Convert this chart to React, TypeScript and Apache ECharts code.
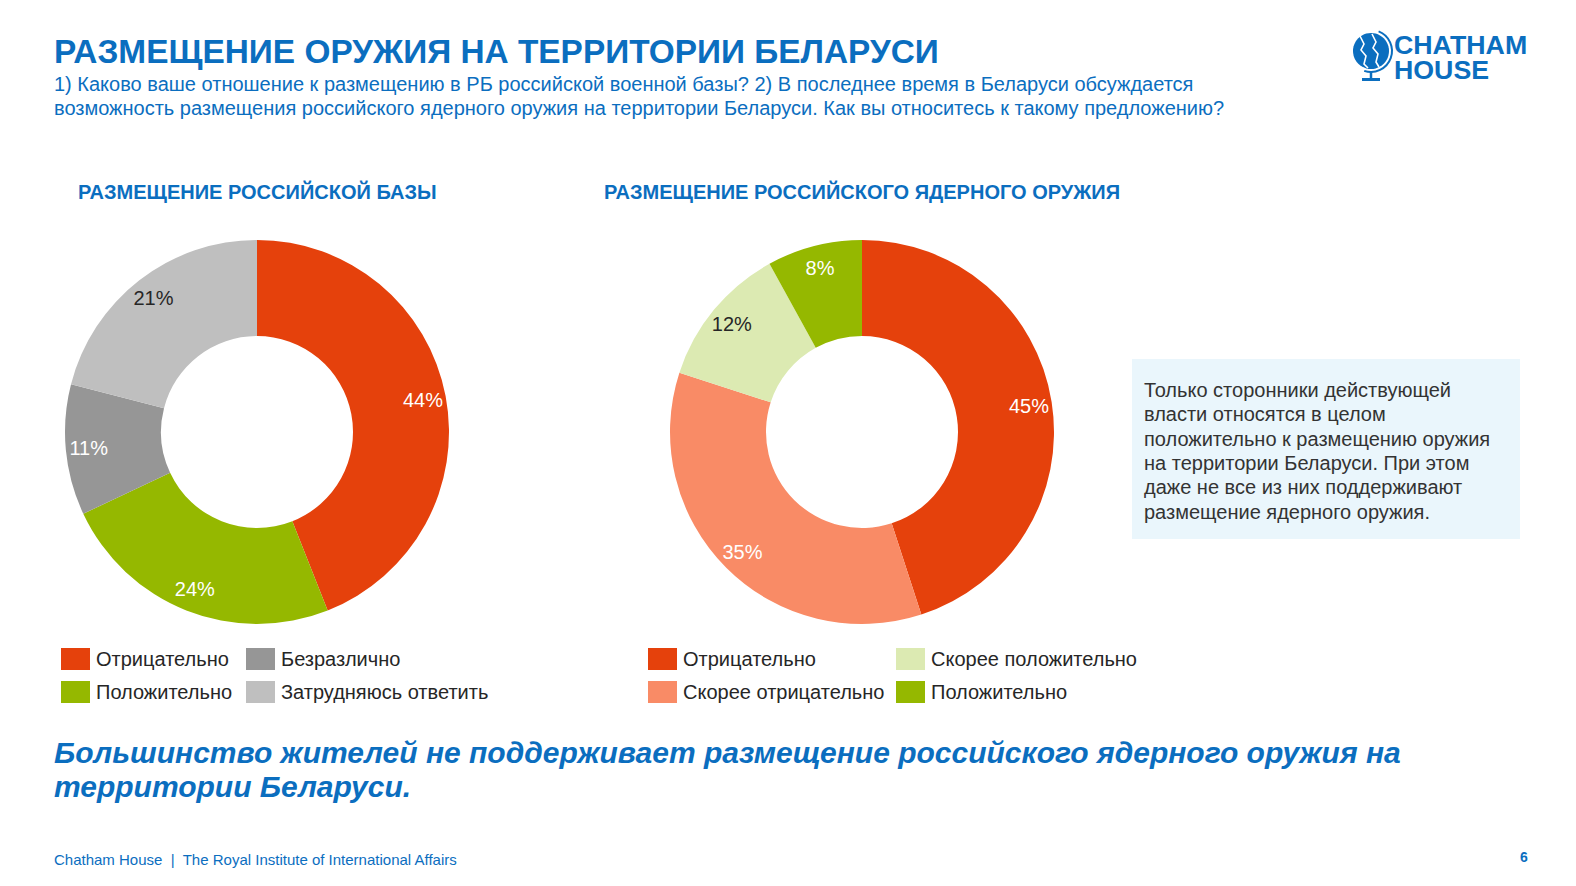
import React, { useEffect, useRef } from "react";
import * as echarts from "echarts";

const baseCategories = ["Отрицательно", "Положительно", "Безразлично", "Затрудняюсь ответить"];
const baseValues = [44, 24, 11, 21];
const baseColors = ["#E5410C", "#95B800", "#969696", "#BFBFBF"];
const baseLabelColors = ["#FFFFFF", "#FFFFFF", "#FFFFFF", "#262626"];

const nukeCategories = ["Отрицательно", "Скорее отрицательно", "Скорее положительно", "Положительно"];
const nukeValues = [45, 35, 12, 8];
const nukeColors = ["#E5410C", "#F98B66", "#DCEAB2", "#95B800"];
const nukeLabelColors = ["#FFFFFF", "#FFFFFF", "#262626", "#FFFFFF"];

const FONT = '"Liberation Sans", Arial, sans-serif';
const BLUE = "#0B6EBF";

function buildSeries(
  cats: string[],
  vals: number[],
  colors: string[],
  labelColors: string[],
  center: [number, number]
) {
  const main = {
    type: "pie",
    center,
    radius: [96, 192],
    startAngle: 90,
    clockwise: true,
    silent: true,
    label: { show: false },
    labelLine: { show: false },
    emphasis: { disabled: true },
    itemStyle: { borderWidth: 0 },
    data: cats.map((c, i) => ({ name: c, value: vals[i], itemStyle: { color: colors[i] } })),
  };
  const labels = {
    type: "pie",
    center,
    radius: [140, 192],
    startAngle: 90,
    clockwise: true,
    silent: true,
    legendHoverLink: false,
    emphasis: { disabled: true },
    itemStyle: { color: "rgba(0,0,0,0)", borderWidth: 0 },
    labelLine: { show: false },
    label: {
      show: true,
      position: "inside",
      formatter: "{c}%",
      fontSize: 20,
      fontFamily: FONT,
    },
    data: cats.map((c, i) => ({
      name: c + " ",
      value: vals[i],
      label: { color: labelColors[i] },
    })),
  };
  return [main, labels];
}

const legendCommon = {
  orient: "vertical",
  itemWidth: 29,
  itemHeight: 22,
  itemGap: 11,
  padding: 0,
  icon: "rect",
  selectedMode: false,
  textStyle: { fontSize: 20, fontFamily: FONT, color: "#262626", padding: [0, 0, 0, 1] },
};

export default function App() {
  const ref = useRef<HTMLDivElement>(null);
  useEffect(() => {
    if (!ref.current) return;
    const chart = echarts.init(ref.current, undefined, { renderer: "svg" });
    const s1 = buildSeries(baseCategories, baseValues, baseColors, baseLabelColors, [257, 432]);
    const s2 = buildSeries(nukeCategories, nukeValues, nukeColors, nukeLabelColors, [862, 432]);
    const textLines = [
      "Только сторонники действующей",
      "власти относятся в целом",
      "положительно к размещению оружия",
      "на территории Беларуси. При этом",
      "даже не все из них поддерживают",
      "размещение ядерного оружия.",
    ];
    chart.setOption({
      animation: false,
      backgroundColor: "#FFFFFF",
      series: [s1[0], s2[0], s1[1], s2[1]],
      legend: [
        { ...legendCommon, left: 61, top: 648, data: [baseCategories[0], baseCategories[1]] },
        { ...legendCommon, left: 246, top: 648, data: [baseCategories[2], baseCategories[3]] },
        { ...legendCommon, left: 648, top: 648, data: [nukeCategories[0], nukeCategories[1]] },
        { ...legendCommon, left: 896, top: 648, data: [nukeCategories[2], nukeCategories[3]] },
      ],
      graphic: [
        {
          type: "text",
          x: 54,
          y: 51,
          style: {
            text: "РАЗМЕЩЕНИЕ ОРУЖИЯ НА ТЕРРИТОРИИ БЕЛАРУСИ",
            fontSize: 33.4,
            fontWeight: "bold",
            fontFamily: FONT,
            fill: BLUE,
            verticalAlign: "middle",
          },
        },
        {
          type: "text",
          x: 54,
          y: 72,
          style: {
            text:
              "1) Каково ваше отношение к размещению в РБ российской военной базы? 2) В последнее время в Беларуси обсуждается\nвозможность размещения российского ядерного оружия на территории Беларуси. Как вы относитесь к такому предложению?",
            fontSize: 20,
            lineHeight: 24,
            fontFamily: FONT,
            fill: BLUE,
            verticalAlign: "top",
          },
        },
        {
          type: "text",
          x: 78,
          y: 192,
          style: {
            text: "РАЗМЕЩЕНИЕ РОССИЙСКОЙ БАЗЫ",
            fontSize: 20,
            fontWeight: "bold",
            fontFamily: FONT,
            fill: BLUE,
            verticalAlign: "middle",
          },
        },
        {
          type: "text",
          x: 604,
          y: 192,
          style: {
            text: "РАЗМЕЩЕНИЕ РОССИЙСКОГО ЯДЕРНОГО ОРУЖИЯ",
            fontSize: 20,
            fontWeight: "bold",
            fontFamily: FONT,
            fill: BLUE,
            verticalAlign: "middle",
          },
        },
        {
          type: "rect",
          shape: { x: 1132, y: 359, width: 388, height: 180 },
          style: { fill: "#EAF6FC" },
        },
        {
          type: "text",
          x: 1144,
          y: 378,
          style: {
            text: textLines.join("\n"),
            fontSize: 20,
            lineHeight: 24.3,
            fontFamily: FONT,
            fill: "#333333",
            verticalAlign: "top",
          },
        },
        {
          type: "text",
          x: 54,
          y: 735,
          style: {
            text:
              "Большинство жителей не поддерживает размещение российского ядерного оружия на\nтерритории Беларуси.",
            fontSize: 30,
            lineHeight: 34,
            fontWeight: "bold",
            fontStyle: "italic",
            fontFamily: FONT,
            fill: BLUE,
            verticalAlign: "top",
          },
        },
        {
          type: "text",
          x: 54,
          y: 859,
          style: {
            text: "Chatham House  |  The Royal Institute of International Affairs",
            fontSize: 15,
            fontFamily: FONT,
            fill: BLUE,
            verticalAlign: "middle",
          },
        },
        {
          type: "text",
          x: 1524,
          y: 857,
          style: {
            text: "6",
            fontSize: 14,
            fontWeight: "bold",
            fontFamily: FONT,
            fill: BLUE,
            align: "center",
            verticalAlign: "middle",
          },
        },
        // logo
        {
          type: "group",
          children: [
            { type: "circle", shape: { cx: 1371, cy: 51, r: 18 }, style: { fill: BLUE } },
            {
              type: "arc",
              shape: { cx: 1371, cy: 51, r: 21, startAngle: -1.2, endAngle: 1.9 },
              style: { stroke: BLUE, lineWidth: 2, fill: "none" },
            },
            {
              type: "polyline",
              shape: { points: [[1360, 36], [1364, 44], [1361, 50], [1366, 56], [1364, 64], [1368, 68]] },
              style: { stroke: "#FFFFFF", lineWidth: 1.6, fill: "none" },
            },
            {
              type: "polyline",
              shape: { points: [[1372, 34], [1376, 42], [1373, 48], [1378, 54], [1376, 62], [1379, 67]] },
              style: { stroke: "#FFFFFF", lineWidth: 1.6, fill: "none" },
            },
            {
              type: "line",
              shape: { x1: 1371, y1: 71, x2: 1371, y2: 79 },
              style: { stroke: BLUE, lineWidth: 2.5 },
            },
            {
              type: "rect",
              shape: { x: 1362, y: 78, width: 18, height: 3 },
              style: { fill: BLUE },
            },
          ],
        },
        {
          type: "text",
          x: 1394,
          y: 58,
          scaleX: 1.07,
          style: {
            text: "CHATHAM\nHOUSE",
            fontSize: 25,
            lineHeight: 25.2,
            fontWeight: "bold",
            fontFamily: FONT,
            fill: BLUE,
            verticalAlign: "middle",
          },
        },
      ],
    });
    return () => chart.dispose();
  }, []);
  return (
    <div
      ref={ref}
      style={{ position: "fixed", left: 0, top: 0, width: 1576, height: 886 }}
    />
  );
}
